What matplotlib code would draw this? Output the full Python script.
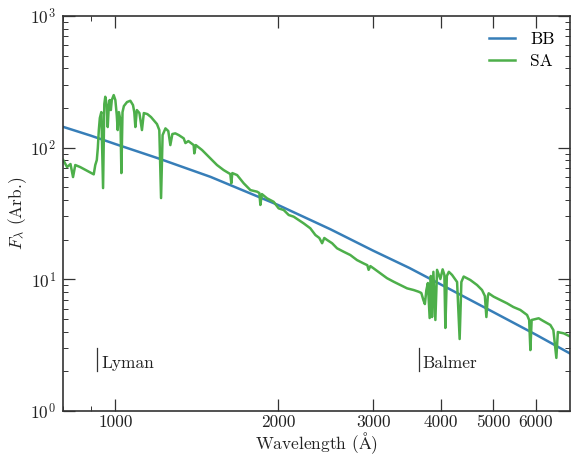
import matplotlib
matplotlib.use("Agg")
import matplotlib.pyplot as plt
from matplotlib.ticker import FixedLocator, FixedFormatter, LogLocator, NullFormatter

plt.rcParams['font.family'] = ['cmr10', 'DejaVu Serif']
plt.rcParams['mathtext.fontset'] = 'cm'
plt.rcParams['axes.formatter.use_mathtext'] = True
plt.rcParams['axes.unicode_minus'] = False

# Blackbody curve
bb_wave = [800, 900, 1000, 1200, 1500, 2000, 2500, 3000, 3500, 4000, 5000, 6000, 7000]
bb_flux = [144, 123.5, 106.5, 83, 60, 36.7, 24.0, 16.5, 12.2, 9.15, 5.65, 3.80, 2.68]

# Stellar atmosphere spectrum
sa_wave = [801, 814, 826, 835, 843, 861, 912, 918, 924, 928, 932, 936, 942, 949, 954,
           958, 964, 968, 972, 976, 981, 985, 993, 1000, 1006, 1010, 1015, 1022, 1026,
           1031, 1037, 1051, 1066, 1078, 1084, 1089, 1096, 1108, 1120, 1129, 1146, 1164,
           1181, 1194, 1206, 1215, 1223, 1238, 1253, 1264, 1275, 1291, 1310, 1338, 1348,
           1365, 1396, 1400, 1409, 1447, 1478, 1510, 1542, 1586, 1632, 1639, 1646, 1680,
           1728, 1778, 1829, 1847, 1855, 1867, 1909, 1963, 2005, 2049, 2093, 2138, 2184,
           2231, 2295, 2345, 2385, 2413, 2436, 2465, 2518, 2572, 2645, 2721, 2800, 2880,
           2926, 2942, 2964, 3006, 3093, 3182, 3273, 3368, 3466, 3565, 3641, 3683, 3715,
           3739, 3763, 3787, 3816, 3835, 3855, 3877, 3910, 3938, 3968, 3994, 4033, 4063,
           4080, 4106, 4141, 4198, 4239, 4289, 4336, 4368, 4411, 4538, 4670, 4770, 4828,
           4859, 4890, 4907, 5012, 5157, 5307, 5451, 5616, 5779, 5831, 5861, 5893, 6072,
           6195, 6382, 6464, 6547, 6589, 6632, 6754, 6951]
sa_flux = [80.5, 71.2, 75.1, 59.8, 73.8, 71.2, 62.7, 73.8, 80.5, 99.3, 136.0, 167.8, 186.3,
           49.3, 214.3, 243.5, 210.6, 143.4, 199.8, 229.9, 193.0, 229.9, 250.8, 229.9,
           176.8, 136.0, 186.3, 162.0, 64.1, 186.3, 206.9, 222.0, 227.1, 210.6, 186.3,
           143.4, 193.0, 183.1, 136.0, 183.1, 179.9, 170.8, 159.2, 151.1, 136.0, 41.4,
           124.6, 140.1, 133.7, 104.6, 126.9, 128.4, 124.6, 117.7, 108.4, 112.2, 104.6,
           90.5, 104.6, 95.9, 87.9, 80.5, 73.8, 67.6, 63.0, 53.6, 64.1, 61.9, 53.6, 47.6,
           46.3, 45.2, 36.7, 44.4, 41.2, 38.8, 34.6, 33.6, 30.8, 29.9, 28.2, 26.6, 24.4,
           21.7, 20.6, 18.8, 20.6, 19.9, 18.8, 17.2, 16.2, 15.3, 14.0, 13.2, 12.8, 11.8,
           12.6, 12.1, 11.1, 10.2, 9.59, 9.05, 8.54, 8.29, 8.05, 7.87, 6.96, 6.49, 8.29,
           9.37, 5.08, 10.6, 5.17, 11.4, 4.91, 11.8, 10.8, 10.05, 11.9, 10.8, 4.27, 10.6,
           11.4, 10.8, 10.2, 9.54, 3.52, 9.54, 10.5, 9.88, 9.05, 8.29, 7.47, 5.17, 7.47,
           7.83, 7.38, 6.96, 6.57, 6.16, 5.85, 5.36, 4.91, 2.90, 4.91, 5.06, 4.82, 4.50,
           4.12, 2.53, 3.98, 3.95, 3.89, 3.67]

x_ticks = [1000, 2000, 3000, 4000, 5000, 6000]
x_ticklabels = ['1000', '2000', '3000', '4000', '5000', '6000']

edge_names = ['Lyman', 'Balmer']
edge_wave = [925, 3640]
edge_flux = [2, 3]

fig = plt.figure(figsize=(5.71, 4.57), dpi=100)
ax = fig.add_axes([0.1103, 0.1007, 0.8886, 0.8643])

ax.plot(bb_wave, bb_flux, color='#377eb8', lw=1.8, label='BB')
ax.plot(sa_wave, sa_flux, color='#4daf4a', lw=1.8, label='SA')

ax.set_xscale('log')
ax.set_yscale('log')
ax.set_xlim(800, 6950)
ax.set_ylim(1, 1000)

ax.xaxis.set_major_locator(FixedLocator(x_ticks))
ax.xaxis.set_major_formatter(FixedFormatter(x_ticklabels))
ax.xaxis.set_minor_locator(LogLocator(base=10, subs=[8, 9]))
ax.xaxis.set_minor_formatter(NullFormatter())

ax.tick_params(which='both', direction='in', top=True, right=True, colors='#333333',
               labelcolor='#222222', labelsize=12.5)
ax.tick_params(which='major', length=8.3, width=0.9)
ax.tick_params(axis='x', which='major', pad=3)
ax.tick_params(axis='y', which='major', pad=5)
ax.tick_params(which='minor', length=3.6, width=0.7)
for s in ax.spines.values():
    s.set_linewidth(1.2)
    s.set_color('#333333')

for name, w in zip(edge_names, edge_wave):
    ax.plot([w, w], edge_flux, color='#333333', lw=0.9)
    ax.annotate(name, xy=(w, edge_flux[0]), xytext=(3, 0), textcoords='offset points',
                ha='left', va='bottom', fontsize=12.5, color='#222222')

ax.set_xlabel(r'Wavelength ($\mathrm{\AA}$)', fontsize=12.5, color='#222222', labelpad=0)
ax.set_ylabel(r'$F_\lambda$ (Arb.)', fontsize=12.5, color='#222222', labelpad=1)

ax.legend(loc='upper right', frameon=False, fontsize=12.5, handlelength=1.45,
          handletextpad=0.9, labelspacing=0.4)

fig.savefig('out.png', dpi=100)
